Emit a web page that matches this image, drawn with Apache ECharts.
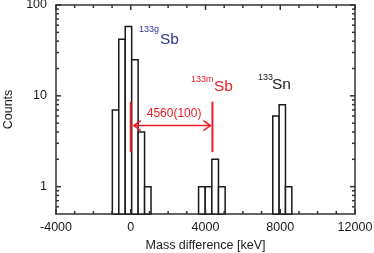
<!DOCTYPE html>
<html>
<head>
<meta charset="utf-8">
<script src="https://cdn.jsdelivr.net/npm/echarts@6/dist/echarts.min.js"></script>
<style>
html,body{margin:0;padding:0;background:#fff;}
#chart{width:374px;height:253px;}
</style>
</head>
<body>
<div id="chart"></div>
<script>
// ---- data ----
const binLo  = [-985, -640, -295, 50, 395, 740, 3630, 3985, 4340, 4695, 7600, 7940, 8280];
const binHi  = [-640, -295, 50, 395, 740, 1085, 3985, 4340, 4695, 5050, 7940, 8280, 8620];
const counts = [7, 42, 58, 25, 4, 1, 1, 1, 2, 1, 6, 8, 1];

const xTickLabels = [-4000, 0, 4000, 8000, 12000];
const xMinorTicks = [-3000, -2000, -1000, 1000, 2000, 3000, 5000, 6000, 7000, 9000, 10000, 11000];
const yTickLabels = [1, 10, 100];
const yMinorTicks = [0.6, 0.7, 0.8, 0.9, 2, 3, 4, 5, 6, 7, 8, 9, 20, 30, 40, 50, 60, 70, 80, 90];

const markerX = [0, 4370];          // red vertical markers (keV)
const markerRange = [2.4, 8.6];     // counts span of the markers
const arrowY = 4.7;                 // counts level of the arrow
const arrowLabel = '4560(100)';

const X_MIN = -4000, X_MAX = 12000, Y_MIN = 0.5, Y_MAX = 100;

const RED = '#ec1c24', BLUE = '#2e3192', INK = '#1a1a1a', AXIS = '#333333';
const FONT = '"Liberation Sans", Arial, sans-serif';

const chart = echarts.init(document.getElementById('chart'), null, {renderer: 'canvas'});

const xAxisBase = {
  type: 'value', min: X_MIN, max: X_MAX, interval: 4000,
  axisLine: {show: true, onZero: false, lineStyle: {color: AXIS, width: 1.5}},
  axisTick: {show: false}, minorTick: {show: false},
  splitLine: {show: false}, minorSplitLine: {show: false}
};
const yAxisBase = {
  type: 'log', logBase: 10, min: Y_MIN, max: Y_MAX,
  axisLine: {show: true, onZero: false, lineStyle: {color: AXIS, width: 1.5}},
  axisTick: {show: false}, minorTick: {show: false},
  splitLine: {show: false}, minorSplitLine: {show: false}
};
function isDecade(v) {
  return yTickLabels.some(t => Math.abs(t - v) < 1e-6);
}

// tick marks drawn through the axes' scales (inside, on all four sides)
const xTickData = xTickLabels.map(v => [v, 5]).concat(xMinorTicks.map(v => [v, 3]));
const yTickData = yTickLabels.map(v => [v, 5]).concat(yMinorTicks.map(v => [v, 3]));

const option = {
  animation: false,
  backgroundColor: '#fff',
  grid: {left: 56, right: 19, top: 5, bottom: 39, containLabel: false, outerBoundsMode: 'none'},
  xAxis: [
    Object.assign({}, xAxisBase, {
      position: 'bottom',
      axisLabel: {show: true, margin: 7, color: INK, fontFamily: FONT, fontSize: 12.5,
        formatter: v => xTickLabels.includes(v) ? String(v) : ''},
      name: 'Mass difference [keV]', nameLocation: 'middle', nameGap: 24,
      nameTextStyle: {color: INK, fontFamily: FONT, fontSize: 12.5}
    }),
    Object.assign({}, xAxisBase, {position: 'top', axisLabel: {show: false}})
  ],
  yAxis: [
    Object.assign({}, yAxisBase, {
      position: 'left',
      axisLabel: {show: true, margin: 9, color: INK, fontFamily: FONT, fontSize: 12.5,
        formatter: v => isDecade(v) ? String(Math.round(v)) : ''},
      name: 'Counts', nameLocation: 'middle', nameGap: 40,
      nameTextStyle: {color: INK, fontFamily: FONT, fontSize: 12.5}
    }),
    Object.assign({}, yAxisBase, {position: 'right', axisLabel: {show: false}})
  ],
  series: [
    {
      type: 'custom', name: 'hist', xAxisIndex: 0, yAxisIndex: 0, clip: false, z: 2,
      data: counts.map((c, i) => [binLo[i], binHi[i], c]),
      encode: {x: [0, 1], y: 2},
      renderItem: function (params, api) {
        const lo = api.value(0), hi = api.value(1), c = api.value(2);
        const pTop = api.coord([lo, c]);
        const pBot = api.coord([hi, Y_MIN]);
        return {
          type: 'rect',
          shape: {x: pTop[0], y: pTop[1], width: pBot[0] - pTop[0], height: pBot[1] - pTop[1]},
          style: {fill: '#fff', stroke: INK, lineWidth: 1.5}
        };
      }
    },
    {
      type: 'custom', name: 'xTicks', xAxisIndex: 0, yAxisIndex: 0, clip: false, z: 3,
      data: xTickData.map(d => [d[0], Y_MIN, d[1]]),
      encode: {x: 0, y: 1},
      renderItem: function (params, api) {
        const v = api.value(0), len = api.value(2);
        const b = api.coord([v, Y_MIN]);
        const t = api.coord([v, Y_MAX]);
        const st = {stroke: AXIS, lineWidth: 1.5};
        return {type: 'group', children: [
          {type: 'line', shape: {x1: b[0], y1: b[1], x2: b[0], y2: b[1] - len}, style: st},
          {type: 'line', shape: {x1: t[0], y1: t[1], x2: t[0], y2: t[1] + len}, style: st}
        ]};
      }
    },
    {
      type: 'custom', name: 'yTicks', xAxisIndex: 0, yAxisIndex: 0, clip: false, z: 3,
      data: yTickData.map(d => [X_MIN, d[0], d[1]]),
      encode: {x: 0, y: 1},
      renderItem: function (params, api) {
        const v = api.value(1), len = api.value(2);
        const l = api.coord([X_MIN, v]);
        const r = api.coord([X_MAX, v]);
        const st = {stroke: AXIS, lineWidth: 1.5};
        return {type: 'group', children: [
          {type: 'line', shape: {x1: l[0], y1: l[1], x2: l[0] + len, y2: l[1]}, style: st},
          {type: 'line', shape: {x1: r[0], y1: r[1], x2: r[0] - len, y2: r[1]}, style: st}
        ]};
      }
    },
    {
      type: 'custom', name: 'markers', xAxisIndex: 0, yAxisIndex: 0, clip: false, z: 5,
      data: markerX.map(x => [x, markerRange[0], markerRange[1]]),
      encode: {x: 0, y: [1, 2]},
      renderItem: function (params, api) {
        const x = api.value(0);
        const a = api.coord([x, api.value(1)]);
        const b = api.coord([x, api.value(2)]);
        return {type: 'line', shape: {x1: a[0], y1: a[1], x2: b[0], y2: b[1]},
          style: {stroke: RED, lineWidth: 2}};
      }
    },
    {
      type: 'custom', name: 'arrow', xAxisIndex: 0, yAxisIndex: 0, clip: false, z: 6,
      data: [[markerX[0], markerX[1], arrowY]],
      encode: {x: [0, 1], y: 2},
      renderItem: function (params, api) {
        const a = api.coord([api.value(0), api.value(2)]);
        const b = api.coord([api.value(1), api.value(2)]);
        const x1 = a[0] + 3, x2 = b[0] - 2, y = a[1];
        const st = {stroke: RED, lineWidth: 1.5, fill: 'none'};
        return {type: 'group', children: [
          {type: 'line', shape: {x1: x1, y1: y, x2: x2, y2: y}, style: st},
          {type: 'polyline', shape: {points: [[x1 + 7, y - 5], [x1, y], [x1 + 7, y + 5]]}, style: st},
          {type: 'polyline', shape: {points: [[x2 - 7, y - 5], [x2, y], [x2 - 7, y + 5]]}, style: st},
          {type: 'text', style: {text: arrowLabel, x: (x1 + x2) / 2 + 2, y: y - 12,
            fill: RED, font: '12px ' + FONT, textAlign: 'center', textVerticalAlign: 'middle'}}
        ]};
      }
    }
  ],
  graphic: [
    {type: 'text', z: 10, style: {text: '133g', x: 139, y: 30, fill: BLUE, font: '9px ' + FONT, textVerticalAlign: 'middle'}},
    {type: 'text', z: 10, style: {text: 'Sb', x: 160, y: 39.5, fill: BLUE, font: '15.5px ' + FONT, textVerticalAlign: 'middle'}},
    {type: 'text', z: 10, style: {text: '133m', x: 191, y: 80, fill: RED, font: '9px ' + FONT, textVerticalAlign: 'middle'}},
    {type: 'text', z: 10, style: {text: 'Sb', x: 214, y: 87, fill: RED, font: '15.5px ' + FONT, textVerticalAlign: 'middle'}},
    {type: 'text', z: 10, style: {text: '133', x: 258, y: 78, fill: INK, font: '9px ' + FONT, textVerticalAlign: 'middle'}},
    {type: 'text', z: 10, style: {text: 'Sn', x: 272, y: 85, fill: INK, font: '15.5px ' + FONT, textVerticalAlign: 'middle'}}
  ]
};
chart.setOption(option);
</script>
</body>
</html>
